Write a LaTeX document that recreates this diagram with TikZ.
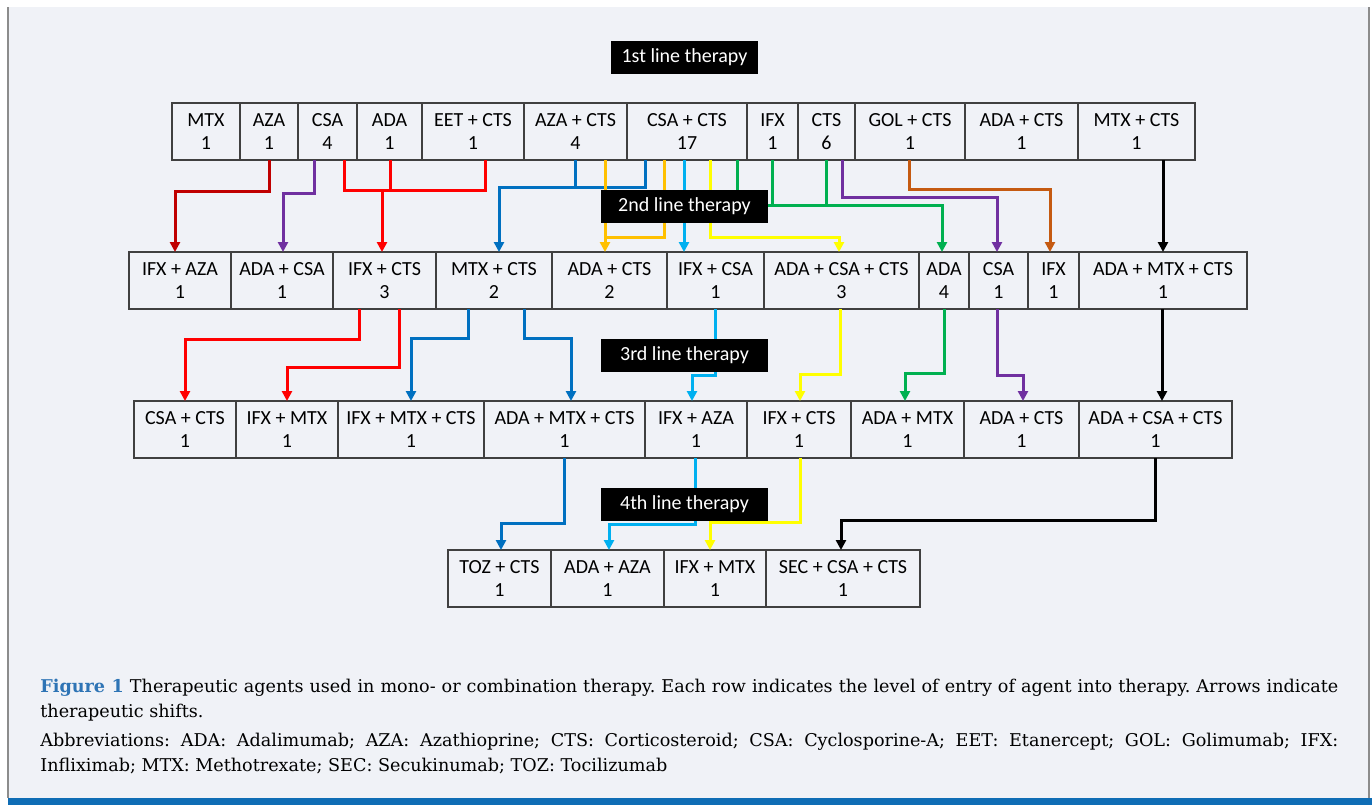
\documentclass[tikz,border=0pt]{standalone}
\usepackage{fontspec}
\setmainfont{Carlito}
\newfontfamily\captionserif{DejaVu Serif}
\definecolor{pagebg}{HTML}{F0F2F7}
\definecolor{framegray}{HTML}{8C8C8C}
\definecolor{cellgray}{HTML}{404040}
\definecolor{barblue}{HTML}{0F6DB5}
\definecolor{figblue}{HTML}{2E74B5}
\definecolor{shiftdarkred}{HTML}{C00000}
\definecolor{shiftred}{HTML}{FF0000}
\definecolor{shiftpurple}{HTML}{7030A0}
\definecolor{shiftblue}{HTML}{0070C0}
\definecolor{shiftorange}{HTML}{FFC000}
\definecolor{shiftcyan}{HTML}{00B0F0}
\definecolor{shiftyellow}{HTML}{FFFF00}
\definecolor{shiftgreen}{HTML}{00B050}
\definecolor{shiftbrown}{HTML}{C55A11}
\usetikzlibrary{arrows.meta,positioning}
\tikzset{
    regimen/.style={
        draw=cellgray,
        line width=0.75pt,
        inner sep=0pt,
        outer sep=0pt,
        minimum height=28.5pt,
        align=center,
        font=\fontsize{10}{11.5}\selectfont
    },
    lineheader/.style={
        fill=black,
        text=white,
        inner sep=0pt,
        minimum width=83.5pt,
        minimum height=16.5pt,
        font=\fontsize{10}{12}\selectfont
    },
    shiftstub/.style={
        line width=1.5pt
    },
    shiftarrow/.style={
        shiftstub,
        -{Triangle[length=5pt,width=5pt]}
    }
}

\begin{document}
\begin{tikzpicture}[x=0.5pt,y=-0.5pt]
        \useasboundingbox (0,0) rectangle (1372,805);
        \fill[pagebg] (8,7) rectangle (1369,798);
        \draw[framegray,line width=0.6pt] (8,7) -- (8,798) (1369,7) -- (1369,798);
        \fill[barblue] (8,798) rectangle (1372,805);

        \node[regimen,minimum width=34pt,anchor=north west] (ra1) at (172,103) {MTX\\1};
        \node[regimen,minimum width=29pt,right=0pt of ra1] (ra2) {AZA\\1};
        \node[regimen,minimum width=29.5pt,right=0pt of ra2] (ra3) {CSA\\4};
        \node[regimen,minimum width=32.5pt,right=0pt of ra3] (ra4) {ADA\\1};
        \node[regimen,minimum width=51pt,right=0pt of ra4] (ra5) {EET + CTS\\1};
        \node[regimen,minimum width=51.5pt,right=0pt of ra5] (ra6) {AZA + CTS\\4};
        \node[regimen,minimum width=60pt,right=0pt of ra6] (ra7) {CSA + CTS\\17};
        \node[regimen,minimum width=25.5pt,right=0pt of ra7] (ra8) {IFX\\1};
        \node[regimen,minimum width=28.5pt,right=0pt of ra8] (ra9) {CTS\\6};
        \node[regimen,minimum width=55pt,right=0pt of ra9] (ra10) {GOL + CTS\\1};
        \node[regimen,minimum width=56.5pt,right=0pt of ra10] (ra11) {ADA + CTS\\1};
        \node[regimen,minimum width=58.5pt,right=0pt of ra11] (ra12) {MTX + CTS\\1};

        \node[regimen,minimum width=51pt,anchor=north west] (rb1) at (129,252) {IFX + AZA\\1};
        \node[regimen,minimum width=51pt,right=0pt of rb1] (rb2) {ADA + CSA\\1};
        \node[regimen,minimum width=51.5pt,right=0pt of rb2] (rb3) {IFX + CTS\\3};
        \node[regimen,minimum width=58pt,right=0pt of rb3] (rb4) {MTX + CTS\\2};
        \node[regimen,minimum width=57.5pt,right=0pt of rb4] (rb5) {ADA + CTS\\2};
        \node[regimen,minimum width=48.5pt,right=0pt of rb5] (rb6) {IFX + CSA\\1};
        \node[regimen,minimum width=77.5pt,right=0pt of rb6] (rb7) {ADA + CSA + CTS\\3};
        \node[regimen,minimum width=25pt,right=0pt of rb7] (rb8) {ADA\\4};
        \node[regimen,minimum width=29.5pt,right=0pt of rb8] (rb9) {CSA\\1};
        \node[regimen,minimum width=25.5pt,right=0pt of rb9] (rb10) {IFX\\1};
        \node[regimen,minimum width=84pt,right=0pt of rb10] (rb11) {ADA + MTX + CTS\\1};

        \node[regimen,minimum width=51pt,anchor=north west] (rc1) at (134,401) {CSA + CTS\\1};
        \node[regimen,minimum width=51pt,right=0pt of rc1] (rc2) {IFX + MTX\\1};
        \node[regimen,minimum width=73pt,right=0pt of rc2] (rc3) {IFX + MTX + CTS\\1};
        \node[regimen,minimum width=80.5pt,right=0pt of rc3] (rc4) {ADA + MTX + CTS\\1};
        \node[regimen,minimum width=51pt,right=0pt of rc4] (rc5) {IFX + AZA\\1};
        \node[regimen,minimum width=52pt,right=0pt of rc5] (rc6) {IFX + CTS\\1};
        \node[regimen,minimum width=56.5pt,right=0pt of rc6] (rc7) {ADA + MTX\\1};
        \node[regimen,minimum width=57.5pt,right=0pt of rc7] (rc8) {ADA + CTS\\1};
        \node[regimen,minimum width=76.5pt,right=0pt of rc8] (rc9) {ADA + CSA + CTS\\1};

        \node[regimen,minimum width=51.5pt,anchor=north west] (rd1) at (448,550) {TOZ + CTS\\1};
        \node[regimen,minimum width=56.5pt,right=0pt of rd1] (rd2) {ADA + AZA\\1};
        \node[regimen,minimum width=51pt,right=0pt of rd2] (rd3) {IFX + MTX\\1};
        \node[regimen,minimum width=77pt,right=0pt of rd3] (rd4) {SEC + CSA + CTS\\1};

        \draw[shiftarrow,shiftdarkred] (ra2.south -| 269,0) |- (175,191) -- (rb1.north -| 175,0);
        \draw[shiftarrow,shiftpurple] (ra3.south -| 314,0) |- (283,193) -- (rb2.north -| 283,0);
        \draw[shiftstub,shiftred] (ra3.south -| 344,0) |- (485,190) -- (ra5.south -| 485,0);
        \draw[shiftstub,shiftred] (ra4.south -| 390,0) -- (390,190);
        \draw[shiftarrow,shiftred] (382,190) -- (rb3.north -| 382,0);
        \draw[shiftstub,shiftblue] (ra6.south -| 575,0) -- (575,187);
        \draw[shiftarrow,shiftblue] (ra7.south -| 645,0) |- (499,187) -- (rb4.north -| 499,0);
        \draw[shiftarrow,shiftorange] (ra6.south -| 605,0) -- (rb5.north -| 605,0);
        \draw[shiftstub,shiftorange] (ra7.south -| 664,0) |- (605,237);
        \draw[shiftarrow,shiftcyan] (ra7.south -| 684,0) -- (rb6.north -| 684,0);
        \draw[shiftarrow,shiftyellow] (ra7.south -| 710,0) |- (839,237) -- (rb7.north -| 839,0);
        \draw[shiftarrow,shiftgreen] (ra7.south -| 737,0) |- (942,205) -- (rb8.north -| 942,0);
        \draw[shiftstub,shiftgreen] (ra8.south -| 772,0) -- (772,205);
        \draw[shiftstub,shiftgreen] (ra9.south -| 826,0) -- (826,205);
        \draw[shiftarrow,shiftpurple] (ra9.south -| 842,0) |- (997,197) -- (rb9.north -| 997,0);
        \draw[shiftarrow,shiftbrown] (ra10.south -| 909,0) |- (1050,189) -- (rb10.north -| 1050,0);
        \draw[shiftarrow,black] (ra12.south -| 1163,0) -- (rb11.north -| 1163,0);

        \draw[shiftarrow,shiftred] (rb3.south -| 359,0) |- (185,339) -- (rc1.north -| 185,0);
        \draw[shiftarrow,shiftred] (rb3.south -| 399,0) |- (287,367) -- (rc2.north -| 287,0);
        \draw[shiftarrow,shiftblue] (rb4.south -| 468,0) |- (411,338) -- (rc3.north -| 411,0);
        \draw[shiftarrow,shiftblue] (rb4.south -| 524,0) |- (571,338) -- (rc4.north -| 571,0);
        \draw[shiftarrow,shiftcyan] (rb6.south -| 715,0) |- (692,375) -- (rc5.north -| 692,0);
        \draw[shiftarrow,shiftyellow] (rb7.south -| 840,0) |- (800,374) -- (rc6.north -| 800,0);
        \draw[shiftarrow,shiftgreen] (rb8.south -| 944,0) |- (905,373) -- (rc7.north -| 905,0);
        \draw[shiftarrow,shiftpurple] (rb9.south -| 997,0) |- (1023,375) -- (rc8.north -| 1023,0);
        \draw[shiftarrow,black] (rb11.south -| 1162,0) -- (rc9.north -| 1162,0);

        \draw[shiftarrow,shiftblue] (rc4.south -| 564,0) |- (501,523) -- (rd1.north -| 501,0);
        \draw[shiftarrow,shiftcyan] (rc5.south -| 695,0) |- (609,524) -- (rd2.north -| 609,0);
        \draw[shiftarrow,shiftyellow] (rc6.south -| 800,0) |- (710,522) -- (rd3.north -| 710,0);
        \draw[shiftarrow,black] (rc9.south -| 1155,0) |- (841,520) -- (rd4.north -| 841,0);

        \node[lineheader,minimum width=73.5pt] (first) at (684.5,57.5) {1st line therapy};
        \node[lineheader] (second) at (684.5,206.5) {2nd line therapy};
        \node[lineheader] (third) at (684.5,355.5) {3rd line therapy};
        \node[lineheader] (fourth) at (684.5,504.5) {4th line therapy};

        \node[anchor=north west,inner sep=0pt,text width=649pt,align=justify,
              font=\captionserif\fontsize{8.8}{12.5}\selectfont\frenchspacing] (caption) at (40,679)
            {{\color{figblue}\bfseries Figure 1} Therapeutic agents used in mono- or combination therapy. Each row indicates the level of entry of agent into therapy. Arrows indicate\linebreak therapeutic shifts.\\[2pt]
             Abbreviations: ADA: Adalimumab; AZA: Azathioprine; CTS: Corticosteroid; CSA: Cyclosporine-A; EET: Etanercept; GOL: Golimumab; IFX:\linebreak Infliximab; MTX: Methotrexate; SEC: Secukinumab; TOZ: Tocilizumab};
    \end{tikzpicture}
\end{document}
